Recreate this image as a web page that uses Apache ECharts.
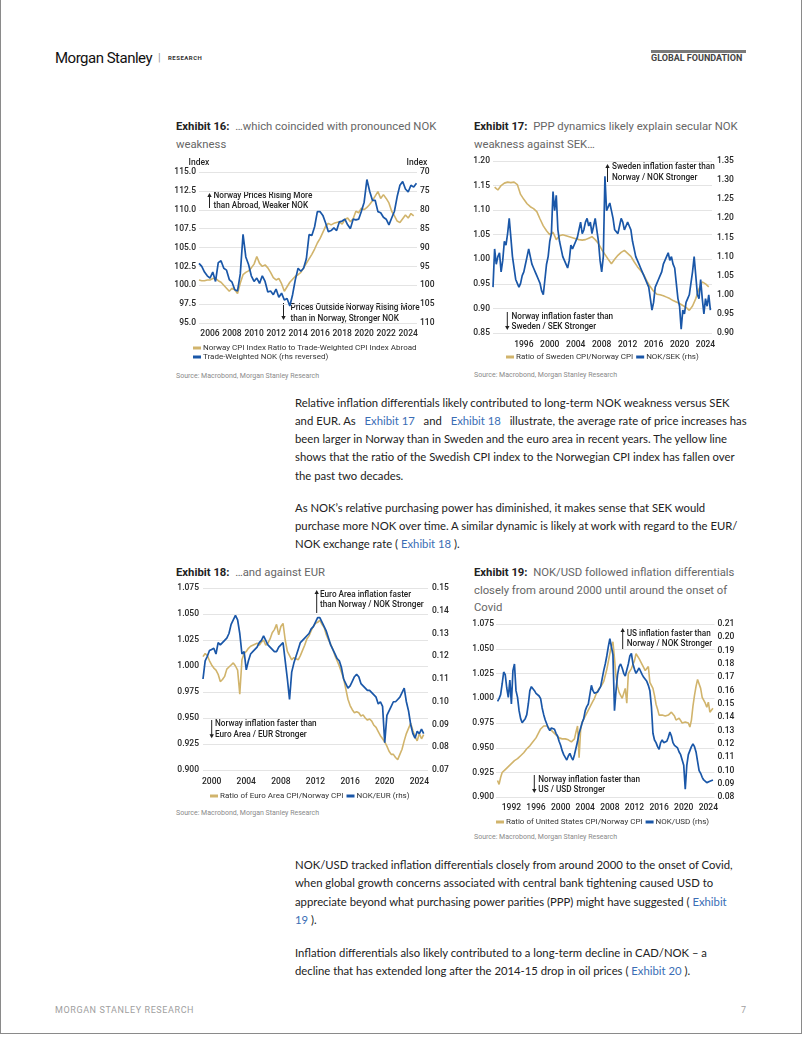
<!DOCTYPE html>
<html><head><meta charset="utf-8">
<script src="https://cdn.jsdelivr.net/npm/echarts@6/dist/echarts.min.js"></script>
<style>
html,body{margin:0;padding:0;background:#fff;}
#page{position:relative;width:802px;height:1037px;overflow:hidden;font-family:Roboto,sans-serif;}
#frame{position:absolute;left:0;top:-2px;width:800px;height:1034px;border:1px solid #8a8a8a;}
#chart{position:absolute;left:0;top:0;width:802px;height:1037px;}
.t{position:absolute;white-space:nowrap;}
.title{font-size:11.3px;line-height:17.7px;color:#666;}
.title b{color:#222;font-weight:700;}
.body{font-family:Lato,sans-serif;font-size:11.3px;line-height:18.3px;color:#222;left:295px;}
.lnk{color:#3a6db5;}
.gap{margin:0 3px;}
.src{font-size:7px;line-height:10px;color:#8a8a8a;}
</style></head><body><div id="page">
<div id="frame"></div>
<div class="t" style="left:55px;top:48px;font-size:15px;line-height:20px;letter-spacing:-0.5px;color:#111;">Morgan Stanley</div>
<div class="t" style="left:158px;top:50px;font-size:11px;line-height:16px;color:#999;">|</div>
<div class="t" style="left:168px;top:53px;font-size:6px;line-height:10px;font-weight:700;letter-spacing:0.5px;color:#333;">RESEARCH</div>
<div class="t" style="left:651px;top:50px;width:95px;height:2.5px;background:#7a7a7a;"></div>
<div class="t" style="left:651px;top:53px;font-size:9px;line-height:11px;font-weight:700;color:#444;">GLOBAL FOUNDATION</div>

<div class="t title" style="left:176px;top:118px;"><b>Exhibit 16:</b>&nbsp; …which coincided with pronounced NOK<br>weakness</div>
<div class="t title" style="left:474px;top:118px;"><b>Exhibit 17:</b>&nbsp; PPP dynamics likely explain secular NOK<br>weakness against SEK…</div>
<div class="t src" style="left:176px;top:371px;">Source: Macrobond, Morgan Stanley Research</div>
<div class="t src" style="left:474px;top:370px;">Source: Macrobond, Morgan Stanley Research</div>

<div class="t body" style="top:393.5px;">Relative inflation differentials likely contributed to long-term NOK weakness versus SEK<br>and EUR. As &nbsp;<span class="lnk gap">Exhibit 17</span>&nbsp; and &nbsp;<span class="lnk gap">Exhibit 18</span>&nbsp; illustrate, the average rate of price increases has<br>been larger in Norway than in Sweden and the euro area in recent years. The yellow line<br>shows that the ratio of the Swedish CPI index to the Norwegian CPI index has fallen over<br>the past two decades.</div>
<div class="t body" style="top:498.5px;">As NOK’s relative purchasing power has diminished, it makes sense that SEK would<br>purchase more NOK over time. A similar dynamic is likely at work with regard to the EUR/<br>NOK exchange rate (&nbsp;<span class="lnk">Exhibit 18</span>&nbsp;).</div>

<div class="t title" style="left:176px;top:564px;"><b>Exhibit 18:</b>&nbsp; …and against EUR</div>
<div class="t title" style="left:474px;top:564px;"><b>Exhibit 19:</b>&nbsp; NOK/USD followed inflation differentials<br>closely from around 2000 until around the onset of<br>Covid</div>
<div class="t src" style="left:176px;top:808px;">Source: Macrobond, Morgan Stanley Research</div>
<div class="t src" style="left:474px;top:832px;">Source: Macrobond, Morgan Stanley Research</div>

<div class="t body" style="top:856px;">NOK/USD tracked inflation differentials closely from around 2000 to the onset of Covid,<br>when global growth concerns associated with central bank tightening caused USD to<br>appreciate beyond what purchasing power parities (PPP) might have suggested (&nbsp;<span class="lnk">Exhibit</span><br><span class="lnk">19</span>&nbsp;).</div>
<div class="t body" style="top:943.5px;">Inflation differentials also likely contributed to a long-term decline in CAD/NOK – a<br>decline that has extended long after the 2014-15 drop in oil prices (&nbsp;<span class="lnk">Exhibit 20</span>&nbsp;).</div>

<div class="t" style="left:55px;top:1004px;font-size:9px;line-height:12px;letter-spacing:0.6px;color:#a0a0a0;">MORGAN STANLEY RESEARCH</div>
<div class="t" style="left:741px;top:1004px;font-size:9px;line-height:12px;color:#a0a0a0;">7</div>
<div id="chart"></div>
</div>
<script>
// ---------- DATA ----------
const ex16Start = 2005.0, ex16Step = 0.25;
const ex16Ratio = [100.7,100.6,100.6,100.7, 100.7,100.9,100.9,100.6, 100.4,100.0,99.6,99.2, 99.6,99.4,98.9,100.3,
  101.4,101.7,101.9,102.3, 102.8,103.8,102.9,102.5, 102.7,102.3,101.7,101.0, 100.7,100.9,100.2,99.2,
  99.8,100.4,100.8,101.2, 101.4,101.7,102.3,102.9, 103.5,104.1,104.8,105.6, 106.2,107.0,107.8,108.2,
  108.0,108.2,108.3,108.4, 108.1,108.7,108.9,108.4, 108.8,109.8,109.6,110.2, 110.0,110.3,110.7,111.2,
  111.8,112.4,111.5,112.0, 111.5,110.9,109.8,109.2, 108.5,108.3,108.8,109.3, 108.9,109.5,109.2];
const ex16TwNok = [94.2,95.0,96.5,97.5, 98.1,96.5,99.0,94.0, 93.5,95.5,96.0,98.5, 99.2,101.2,101.5,97.0,
  86.5,92.5,94.5,97.5, 99.0,98.1,99.5,97.5, 99.0,101.8,101.5,102.5, 101.0,103.2,102.1,103.9,
  103.5,105.5,102.5,98.5, 95.5,96.3,95.5,93.0, 86.6,86.8,84.5,80.5, 80.5,81.5,83.5,85.8,
  85.5,84.8,85.5,83.2, 83.0,82.5,84.0,85.0, 82.5,82.7,82.5,80.4, 78.0,72.0,75.1,77.5,
  77.5,80.5,80.8,82.0, 82.5,84.0,82.2,80.4, 76.5,73.5,72.5,74.5, 75.3,73.5,74.0,73.0];
const ex16XTicks = [2006,2008,2010,2012,2014,2016,2018,2020,2022,2024];

const ex17RatioStart = 1991.5, ex17RatioStep = 0.5;
const ex17Ratio = [1.147,1.141,1.150,1.155,1.157,1.156,1.157,1.152,1.132,1.122,1.113,1.107,1.103,1.097,1.082,1.068,
  1.058,1.050,1.055,1.040,1.048,1.050,1.048,1.046,1.044,1.042,1.040,1.039,1.040,1.043,1.046,1.040,
  1.032,1.020,1.010,1.000,0.991,1.000,1.008,1.014,1.018,1.012,1.006,0.995,0.985,0.977,0.968,0.955,
  0.944,0.935,0.929,0.928,0.926,0.923,0.920,0.916,0.913,0.910,0.906,0.902,0.896,0.905,0.920,0.940,
  0.954,0.950,0.944];
const ex17NokSekStart = 1991.25, ex17NokSekStep = 0.25;
const ex17NokSek = [1.02,1.12,1.08, 1.10,1.11,1.06,1.09, 1.14,1.13,1.16,1.20, 1.15,1.10,1.07,1.04,
  1.03,1.02,1.03,1.05, 1.06,1.08,1.10,1.12, 1.10,1.08,1.07,1.06, 1.05,1.04,1.03,1.01,
  1.00,1.04,1.08,1.10, 1.14,1.16,1.27,1.22, 1.26,1.17,1.14,1.12, 1.10,1.09,1.08,1.07,
  1.09,1.13,1.12,1.12, 1.14,1.15,1.17,1.19, 1.16,1.17,1.19,1.20, 1.18,1.19,1.16,1.18,
  1.20,1.17,1.14,1.09, 1.06,1.10,1.31,1.22, 1.23,1.24,1.22,1.20, 1.17,1.17,1.16,1.18,
  1.20,1.19,1.17,1.18, 1.19,1.18,1.17,1.14, 1.12,1.10,1.09,1.08, 1.07,1.06,1.05,1.04,
  1.03,1.02,0.99,0.96, 0.98,1.02,1.03,1.04, 1.05,1.06,1.08,1.09, 1.10,1.11,1.09,1.10,
  1.08,1.07,1.03,0.99, 0.97,0.91,0.96,0.95, 0.98,0.99,1.00,1.03, 1.06,1.10,1.05,1.00,
  0.99,1.04,0.99,0.95, 0.99,0.97,1.00,0.96];
const ex17XTicks = [1996,2000,2004,2008,2012,2016,2020,2024];

const ex18Start = 1999.0, ex18Step = 0.25;
const ex18Ratio = [1.009,1.012,1.010,1.005, 1.001,0.998,0.996,0.992, 0.985,0.987,0.990,0.997, 0.999,1.001,1.003,1.000,
  0.996,0.973,1.006,1.012, 1.014,1.017,1.019,1.020, 1.021,1.022,1.020,1.023, 1.025,1.020,1.022,1.026,
  1.032,1.035,1.040,1.030, 1.038,1.041,1.025,1.014, 1.010,1.006,1.008,1.007, 1.006,1.010,1.015,1.020,
  1.026,1.029,1.034,1.038, 1.041,1.042,1.044,1.040, 1.037,1.030,1.025,1.021, 1.016,1.010,1.005,1.000,
  0.994,0.988,0.978,0.968, 0.962,0.958,0.955,0.956, 0.955,0.952,0.953,0.950, 0.948,0.949,0.947,0.943,
  0.941,0.937,0.933,0.930, 0.927,0.923,0.918,0.915, 0.915,0.912,0.910,0.915, 0.920,0.928,0.935,0.940,
  0.945,0.938,0.932,0.928, 0.935,0.930,0.934];
const ex18NokEur = [0.110,0.118,0.120,0.1225, 0.123,0.1235,0.121,0.126, 0.125,0.126,0.127,0.128, 0.130,0.134,0.136,0.138,
  0.136,0.130,0.121,0.122, 0.114,0.118,0.121,0.122, 0.123,0.124,0.126,0.127, 0.129,0.127,0.125,0.124,
  0.123,0.122,0.122,0.124, 0.125,0.126,0.118,0.110, 0.101,0.113,0.117,0.120, 0.123,0.126,0.127,0.128,
  0.129,0.130,0.132,0.133, 0.135,0.137,0.137,0.135, 0.133,0.131,0.128,0.125, 0.123,0.121,0.119,0.118,
  0.115,0.110,0.108,0.106, 0.107,0.109,0.111,0.112, 0.111,0.108,0.107,0.106, 0.105,0.105,0.104,0.103,
  0.102,0.099,0.100,0.098, 0.082,0.094,0.096,0.098, 0.100,0.100,0.101,0.102, 0.104,0.106,0.100,0.096,
  0.090,0.086,0.084,0.087, 0.086,0.088,0.086];
const ex18XTicks = [2000,2004,2008,2012,2016,2020,2024];

const ex19Start = 1989.75, ex19Step = 0.25;
const ex19Ratio = [0.917,0.913,0.920,0.925,0.927,0.928,0.930,0.931,0.933,0.934,
  0.936,0.937,0.938,0.939,0.940,0.942,0.943,0.945,0.947,0.949,
  0.951,0.952,0.954,0.956,0.958,0.960,0.962,0.966,0.969,0.971,
  0.972,0.973,0.972,0.971,0.969,0.968,0.966,0.964,0.963,0.961,
  0.960,0.959,0.959,0.960,0.959,0.958,0.958,0.957,0.956,0.958,
  0.959,0.966,0.972,0.940,0.968,0.976,0.978,0.982,0.985,0.988,
  0.991,0.994,0.997,1.000,1.004,1.007,1.010,1.012,1.014,1.017,
  1.023,1.029,1.037,1.045,1.053,1.057,1.040,1.022,1.012,1.006,
  1.004,1.000,0.998,1.010,0.995,1.025,1.027,1.030,1.032,1.038,
  1.045,1.043,1.040,1.037,1.035,1.031,1.028,1.030,1.032,1.016,
  1.018,1.010,1.003,0.994,0.989,0.983,0.981,0.983,0.985,0.982,
  0.981,0.983,0.985,0.986,0.986,0.982,0.978,0.979,0.980,0.978,
  0.975,0.974,0.976,0.978,0.975,0.971,0.978,0.992,1.003,1.012,
  1.019,1.018,1.010,1.001,1.000,0.995,0.991,0.996,0.986,0.988,0.990];
const ex19NokUsd = [0.152,0.154,0.157,0.165,0.174,0.172,0.162,0.155,0.168,0.150,
  0.175,0.180,0.160,0.155,0.145,0.139,0.136,0.136,0.139,0.142,
  0.150,0.160,0.163,0.163,0.160,0.158,0.157,0.156,0.154,0.147,
  0.142,0.138,0.135,0.132,0.130,0.132,0.133,0.131,0.128,0.126,
  0.122,0.119,0.115,0.112,0.110,0.108,0.111,0.113,0.110,0.108,
  0.112,0.117,0.122,0.128,0.132,0.136,0.139,0.145,0.148,0.150,
  0.151,0.164,0.160,0.158,0.157,0.159,0.160,0.163,0.169,0.175,
  0.180,0.186,0.193,0.199,0.200,0.187,0.145,0.160,0.172,0.178,
  0.180,0.177,0.173,0.171,0.170,0.180,0.186,0.188,0.180,0.176,
  0.173,0.174,0.177,0.176,0.172,0.170,0.169,0.167,0.164,0.160,
  0.148,0.128,0.123,0.121,0.118,0.116,0.121,0.123,0.121,0.120,
  0.122,0.125,0.129,0.126,0.121,0.119,0.118,0.117,0.114,0.112,
  0.108,0.104,0.086,0.104,0.112,0.115,0.118,0.120,0.118,0.114,
  0.107,0.100,0.098,0.095,0.093,0.092,0.091,0.091,0.092,0.091,0.093];
const ex19XTicks = [1992,1996,2000,2004,2008,2012,2016,2020,2024];

const names = {
  r16: 'Norway CPI Index Ratio to Trade-Weighted CPI Index Abroad', b16: 'Trade-Weighted NOK (rhs reversed)',
  r17: 'Ratio of Sweden CPI/Norway CPI', b17: 'NOK/SEK (rhs)',
  r18: 'Ratio of Euro Area CPI/Norway CPI', b18: 'NOK/EUR (rhs)',
  r19: 'Ratio of United States CPI/Norway CPI', b19: 'NOK/USD (rhs)'
};
const annotations = [
  {x:209.5,y0:208,y1:193,tx:213.5,ty:201,text:'Norway Prices Rising More\nthan Abroad, Weaker NOK'},
  {x:283.5,y0:303,y1:320,tx:290.5,ty:313.5,text:'Prices Outside Norway Rising More\nthan in Norway, Stronger NOK'},
  {x:607.5,y0:182,y1:164,tx:612,ty:172.5,text:'Sweden inflation faster than\nNorway / NOK Stronger'},
  {x:507.3,y0:312,y1:330,tx:511.5,ty:321.7,text:'Norway inflation faster than\nSweden / SEK Stronger'},
  {x:316.7,y0:613,y1:590,tx:320,ty:599.7,text:'Euro Area inflation faster\nthan Norway / NOK Stronger'},
  {x:211.7,y0:720,y1:738.3,tx:215,ty:729.3,text:'Norway inflation faster than\nEuro Area / EUR Stronger'},
  {x:622.7,y0:650,y1:628,tx:626.7,ty:638.7,text:'US inflation faster than\nNorway / NOK Stronger'},
  {x:534.3,y0:775,y1:793,tx:538.3,ty:785,text:'Norway inflation faster than\nUS / USD Stronger'}
];

// ---------- CHART ----------
const GOLD = '#d1b46c', BLUE = '#1a57a8', FONT = 'Roboto';
const lab = {color:'#262626', fontSize:8.5, fontWeight:500, fontFamily:FONT};
function pairs(start, step, vals){ return vals.map((v,i)=>[+(start+i*step).toFixed(3), v]); }
function xAx(grid,min,max,ticks,margin){
  return {type:'value',gridIndex:grid,min,max,axisLine:{show:false},axisTick:{show:false},splitLine:{show:false},
    axisLabel:{...lab,margin,customValues:ticks,formatter:v=>String(v)}};
}
function yAx(grid,pos,min,max,interval,dec,margin,split,extra){
  return Object.assign({type:'value',gridIndex:grid,position:pos,min,max,interval,
    axisLine:{show:false},axisTick:{show:false},
    splitLine:{show:split,lineStyle:{color:'#e4e4e4',width:1}},
    axisLabel:{...lab,margin,formatter:v=>v.toFixed(dec)}},extra||{});
}
function ln(name,xi,yi,data,color,w){
  return {type:'line',name,xAxisIndex:xi,yAxisIndex:yi,data,showSymbol:false,symbol:'none',
    lineStyle:{width:w,color},itemStyle:{color},animation:false};
}
const legTxt = {fontSize:8,color:'#333',fontFamily:FONT,padding:[0,0,0,-3]};
function leg(data,left,top,orient,gap){
  return {data,left,top,orient,itemGap:gap,itemWidth:8,itemHeight:3,icon:'rect',padding:0,textStyle:legTxt,selectedMode:false};
}
const idxNameL = {name:'Index',nameLocation:'end',nameGap:5,nameTextStyle:{...lab,align:'center',verticalAlign:'bottom'}};
const idxNameR = {name:'Index',nameLocation:'start',nameGap:5,nameTextStyle:{...lab,align:'center',verticalAlign:'bottom'}};

const graphic = [];
annotations.forEach(a=>{
  const up = a.y1 < a.y0, hd = up ? 4 : -4;
  graphic.push({type:'line',silent:true,shape:{x1:a.x,y1:a.y0,x2:a.x,y2:a.y1+(up?2:-2)},style:{stroke:'#222',lineWidth:1}});
  graphic.push({type:'polygon',silent:true,shape:{points:[[a.x-2.2,a.y1+hd],[a.x+2.2,a.y1+hd],[a.x,a.y1]]},style:{fill:'#222'}});
  graphic.push({type:'text',silent:true,x:a.tx,y:a.ty,style:{text:a.text,fill:'#222',font:'500 8.2px Roboto',lineHeight:10.5,verticalAlign:'middle'}});
});

const chart = echarts.init(document.getElementById('chart'), null, {renderer:'canvas'});
chart.setOption({
  animation:false,
  grid:[
    {left:199,top:172,width:218,height:151},
    {left:493,top:161,width:219,height:172},
    {left:203,top:588,width:225,height:182},
    {left:496,top:624,width:218.5,height:173.3}
  ],
  xAxis:[
    xAx(0,2005,2024.8,ex16XTicks,6),
    xAx(1,1991.25,2025,ex17XTicks,7),
    xAx(2,1999,2025,ex18XTicks,7),
    xAx(3,1989.5,2025,ex19XTicks,6)
  ],
  yAxis:[
    yAx(0,'left',95,115,2.5,1,3,true,idxNameL),
    yAx(0,'right',70,110,5,0,3,false,Object.assign({inverse:true},idxNameR)),
    yAx(1,'left',0.85,1.20,0.05,2,3,true),
    yAx(1,'right',0.90,1.35,0.05,2,5,false),
    yAx(2,'left',0.900,1.075,0.025,3,4,true),
    yAx(2,'right',0.07,0.15,0.01,2,4,false),
    yAx(3,'left',0.900,1.075,0.025,3,2,true),
    yAx(3,'right',0.08,0.21,0.01,2,3,false)
  ],
  legend:[
    leg([names.r16,names.b16],193,344,'vertical',1),
    leg([names.r17,names.b17],506,353,'horizontal',3),
    leg([names.r18,names.b18],210,792,'horizontal',3),
    leg([names.r19,names.b19],496,818,'horizontal',3)
  ],
  series:[
    ln(names.r16,0,0,pairs(ex16Start,ex16Step,ex16Ratio),GOLD,1.6),
    ln(names.b16,0,1,pairs(ex16Start,ex16Step,ex16TwNok),BLUE,1.7),
    ln(names.r17,1,2,pairs(ex17RatioStart,ex17RatioStep,ex17Ratio),GOLD,1.6),
    ln(names.b17,1,3,pairs(ex17NokSekStart,ex17NokSekStep,ex17NokSek),BLUE,1.7),
    ln(names.r18,2,4,pairs(ex18Start,ex18Step,ex18Ratio),GOLD,1.6),
    ln(names.b18,2,5,pairs(ex18Start,ex18Step,ex18NokEur),BLUE,1.7),
    ln(names.r19,3,6,pairs(ex19Start,ex19Step,ex19Ratio),GOLD,1.6),
    ln(names.b19,3,7,pairs(ex19Start,ex19Step,ex19NokUsd),BLUE,1.7)
  ],
  graphic
});
</script>
</body></html>
